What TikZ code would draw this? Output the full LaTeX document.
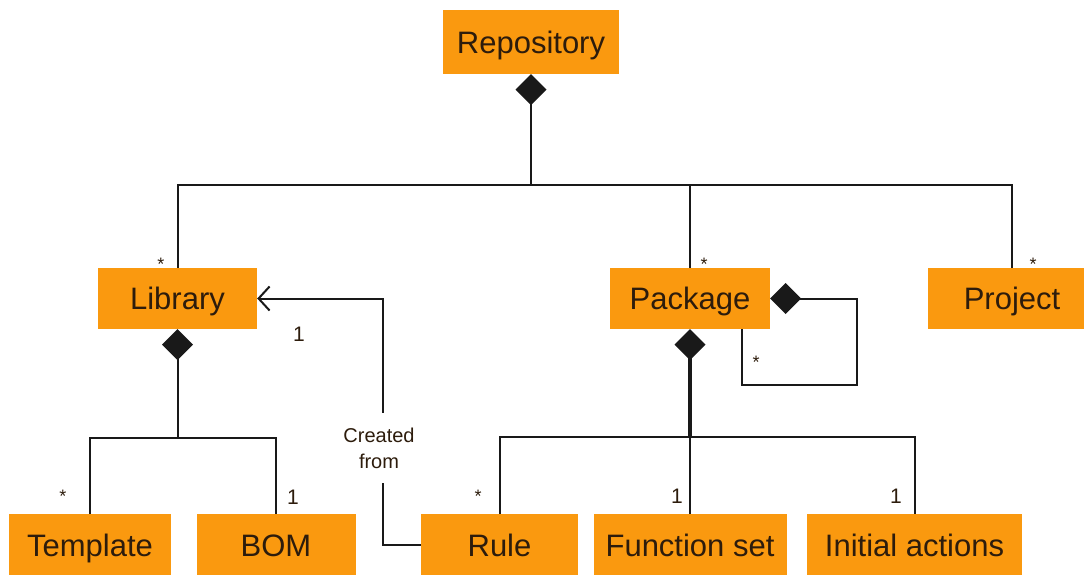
\documentclass[tikz,border=0pt]{standalone}
\usepackage{fontspec}
\setmainfont{Liberation Sans}
\usetikzlibrary{arrows.meta,calc}
\definecolor{boxorange}{RGB}{250,153,15}
\definecolor{ink}{RGB}{45,28,12}
\definecolor{linecol}{RGB}{25,25,25}

\begin{document}
\begin{tikzpicture}[x=1pt,y=-1pt,
  cls/.style={fill=boxorange, draw=none, inner sep=0pt, minimum height=61pt,
    text=ink, text height=22.2pt, text depth=0pt,
    font=\fontsize{31}{36}\selectfont},
  wire/.style={draw=linecol, line width=2pt},
  comp/.style={{Diamond[length=31pt,width=31pt]}-},
  mult/.style={text=ink, inner sep=0pt, font=\fontsize{21}{24}\selectfont},
  star/.style={text=ink, inner sep=0pt, anchor=base, font=\fontsize{18}{20}\selectfont},
]
\useasboundingbox (0,0) rectangle (1084,575);

% classes
\node[cls, minimum width=176pt, minimum height=64pt] (rep) at (531,42) {Repository};
\node[cls, minimum width=159pt] (lib) at (177.5,298.5) {Library};
\node[cls, minimum width=160pt] (pkg) at (690,298.5) {Package};
\node[cls, minimum width=168pt] (proj) at (1012,298.5) {Project};
\node[cls, minimum width=162pt, minimum height=62pt] (tmpl) at (90,545) {Template};
\node[cls, minimum width=159pt, minimum height=62pt] (bom) at (276,545) {BOM};
\node[cls, minimum width=157pt, minimum height=62pt] (rule) at (499.5,545) {Rule};
\node[cls, minimum width=193pt, minimum height=62pt] (fs) at (690,545) {Function set};
\node[cls, minimum width=215pt, minimum height=62pt] (init) at (914.5,545) {Initial actions};

% junction points of the composition trees
\coordinate (rj) at (531,185);
\coordinate (lj) at (177.5,438);
\coordinate (pj) at (690,437);
\coordinate (lp) at (857,385);

% repository composition
\draw[wire, comp] (rep.south) -- (rj);
\draw[wire] (lib.north) |- (rj) -| (proj.north);
\draw[wire] (pkg.north) -- (pkg.north |- rj);

% library composition
\draw[wire, comp] (lib.south) -- (lj);
\draw[wire] (tmpl.north) |- (lj) -| (bom.north);

% package composition
\draw[wire, comp, line width=3.5pt] (pkg.south) -- (pj);
\draw[wire] (rule.north) |- (pj) -| (init.north);
\draw[wire] (pj) -- (fs.north);

% package self-containment
\draw[wire, comp] (pkg.east) -| (lp) -| ([xshift=-28pt]pkg.south east);

% rule created from library
\node[text=ink, inner sep=0pt, minimum height=70pt, align=center,
  font=\fontsize{20}{26}\selectfont] (cf) at (379,448) {Created\\from};
\draw[wire] (rule.west) -| ([xshift=4pt]cf.south);
\draw[wire, -{Straight Barb[length=11pt,width=24pt]}] ([xshift=4pt]cf.north) |- (lib.east);

% multiplicities
\node[star] (m1) at (161,270) {*};
\node[star] (m2) at (704,270) {*};
\node[star] (m3) at (1033,270) {*};
\node[star] (m4) at (756,368) {*};
\node[star] (m5) at (63,502) {*};
\node[star] (m6) at (478,502) {*};
\node[mult] (m7) at (299,334) {1};
\node[mult] (m8) at (293,497) {1};
\node[mult] (m9) at (677,496) {1};
\node[mult] (m10) at (896,496) {1};
\end{tikzpicture}
\end{document}
